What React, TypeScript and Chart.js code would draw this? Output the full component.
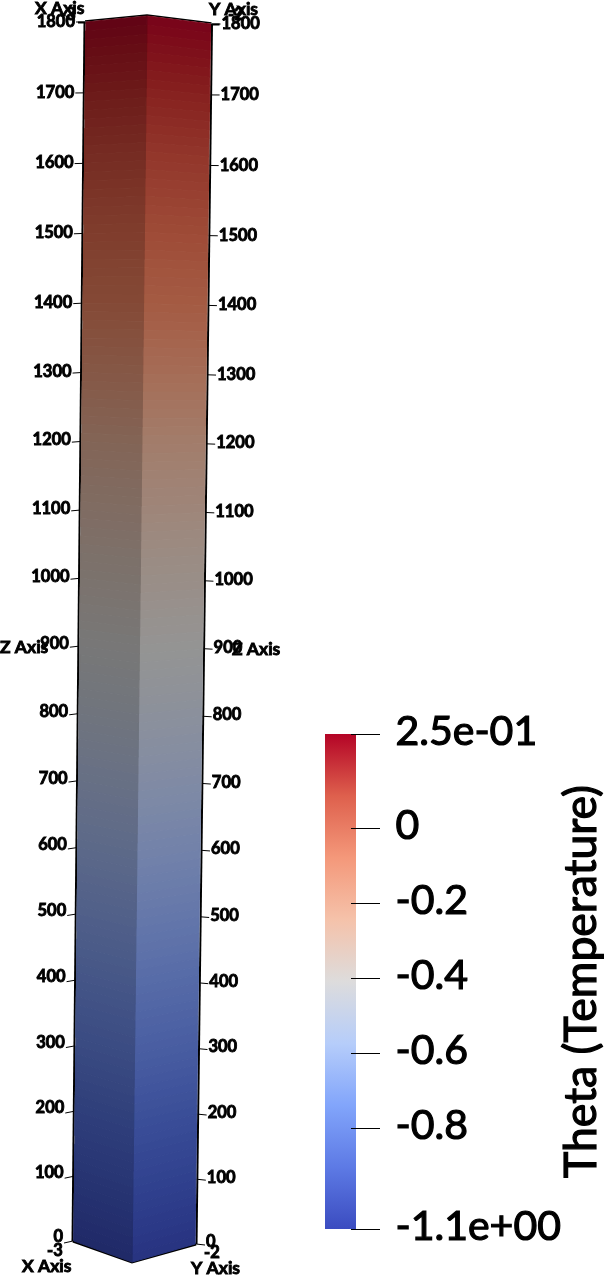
import React, { useEffect, useRef } from "react";
import { Chart, registerables } from "chart.js";

Chart.register(...registerables);

const zTicks = [0, 100, 200, 300, 400, 500, 600, 700, 800, 900, 1000, 1100, 1200, 1300, 1400, 1500, 1600, 1700, 1800];
const zLevels = [0, 50, 100, 150, 200, 250, 300, 350, 400, 450, 500, 550, 600, 650, 700, 750, 800, 850, 900, 950, 1000, 1050, 1100, 1150, 1200, 1250, 1300, 1350, 1400, 1450, 1500, 1550, 1600, 1650, 1700, 1750, 1800];
const levelColors: number[][] = [
  [59, 76, 192], [65, 86, 202], [71, 96, 211], [78, 105, 219], [86, 115, 226], [96, 126, 233], [106, 137, 240],
  [116, 147, 245], [126, 157, 249], [137, 167, 252], [148, 176, 254], [159, 185, 254], [170, 193, 253], [180, 200, 250],
  [190, 206, 246], [199, 211, 240], [207, 215, 233], [214, 218, 226], [221, 221, 221], [225, 217, 212], [228, 212, 202],
  [232, 207, 193], [236, 200, 182], [239, 194, 172], [242, 186, 160], [245, 174, 145], [246, 162, 129], [246, 149, 115],
  [245, 135, 100], [241, 125, 92], [236, 112, 82], [228, 98, 74], [220, 84, 66], [210, 66, 56], [200, 48, 46], [190, 26, 40], [180, 4, 38],
];
const colorbarStops = ["#3b4cc0", "#5d7ae5", "#82a5fb", "#b6cdfa", "#dddcdc", "#f5c2aa", "#f4987a", "#de604d", "#b40426"];
const cbTickValues = [0.25, 0, -0.2, -0.4, -0.6, -0.8, -1.068];
const cbTickLabels = ["2.5e-01", "0", "-0.2", "-0.4", "-0.6", "-0.8", "-1.1e+00"];
const cbRange = [-1.068, 0.25];
const colorbarTitle = "Theta (Temperature)";

type Edge = { x0: number; x1: number; y0: number; y1: number };
const LEFT: Edge = { x0: 74, x1: 86, y0: 1241, y1: 22 };
const CENTER: Edge = { x0: 132, x1: 147, y0: 1262, y1: 16 };
const RIGHT: Edge = { x0: 195, x1: 210.5, y0: 1244, y1: 24 };
const depth = (z: number) => {
  const t = z / 1800;
  return (0.953 * t) / (1 - 0.047 * t);
};
const project = (e: Edge, z: number, dx = 0, dy = 0) => {
  const f = depth(z);
  return { x: e.x0 + (e.x1 - e.x0) * f + dx, y: e.y0 + (e.y1 - e.y0) * f + dy };
};
const SUB = 4;
const shade = (i: number, j: number, s: number) => {
  const a = levelColors[i], b = levelColors[i + 1];
  const w = (j + 0.5) / SUB;
  return `rgb(${[0, 1, 2].map((k) => Math.round((a[k] + (b[k] - a[k]) * w) * s)).join(",")})`;
};
const line = (data: { x: number; y: number }[], color: string, width: number) => ({
  data, showLine: true, borderColor: color, borderWidth: width, pointRadius: 0, fill: false, tension: 0,
});

function columnDatasets() {
  const out: any[] = [];
  const face = (a: Edge, b: Edge, s: number) => {
    for (let i = 0; i < zLevels.length - 1; i++) {
      const step = (zLevels[i + 1] - zLevels[i]) / SUB;
      for (let j = 0; j < SUB; j++) {
        const lo = zLevels[i] + step * j, hi = lo + step;
        const c = shade(i, j, s);
        out.push({
          data: [project(a, lo), project(b, lo), project(b, hi), project(a, hi), project(a, lo)],
          showLine: true, fill: "shape", backgroundColor: c, borderColor: c, borderWidth: 1, pointRadius: 0, tension: 0,
        });
      }
    }
  };
  face(LEFT, CENTER, 0.54);
  face(CENTER, RIGHT, 0.67);
  const zMax = zTicks[zTicks.length - 1];
  out.push(line([project(LEFT, 0, -1.5), project(LEFT, zMax, -1.5)], "#000", 2));
  out.push(line([project(RIGHT, 0, 1.5), project(RIGHT, zMax, 1.5)], "#000", 2));
  // bottom and top edges
  out.push(line([project(LEFT, 0, -1), project(CENTER, 0), project(RIGHT, 0, 1)], "#000", 3));
  out.push(line([project(LEFT, 0, -1), project(CENTER, 0), project(RIGHT, 0, 1)], "#fff", 1));
  out.push(line([project(LEFT, zMax, -1, -1), project(CENTER, zMax, 0, -1), project(RIGHT, zMax, 1, -1)], "#000", 1.5));
  out.push(line([project(LEFT, zMax, -1), project(CENTER, zMax), project(RIGHT, zMax, 1)], "#fff", 1));
  out.push(line([project(LEFT, zMax, -8, 0.5), project(LEFT, zMax, 11, 0.5)], "#000", 2));
  out.push(line([project(RIGHT, zMax, -11, 0.5), project(RIGHT, zMax, 9, 0.5)], "#000", 2));
  zTicks.forEach((z) => {
    const f = depth(z);
    out.push(line([project(LEFT, z, -1), project(LEFT, z, -10, 2 * (1 - f))], "#000", 1));
    out.push(line([project(RIGHT, z, 1), project(RIGHT, z, 10, 1 * (1 - f))], "#000", 1));
  });
  return out;
}

const labelFont = "bold 16.5px Lato";
const titleFont = "bold 17.5px Lato";
const axisLabelPlugin = {
  id: "axisLabels",
  afterDatasetsDraw(chart: any) {
    const { ctx, scales } = chart;
    const X = (v: number) => scales.x.getPixelForValue(v);
    const Y = (v: number) => scales.y.getPixelForValue(v);
    const text = (s: string, x: number, y: number, align: CanvasTextAlign) => {
      ctx.textAlign = align;
      ctx.fillText(s, x, y);
      ctx.strokeText(s, x, y);
    };
    ctx.save();
    ctx.font = labelFont;
    ctx.fillStyle = "#000";
    ctx.strokeStyle = "#000";
    ctx.lineWidth = 0.9;
    ctx.textBaseline = "middle";
    zTicks.forEach((z) => {
      const f = depth(z);
      const l = project(LEFT, z, -11, -4 * (1 - f));
      const r = project(RIGHT, z, 11, -2 * (1 - f));
      text(String(z), X(l.x), Y(l.y), "right");
      text(String(z), X(r.x), Y(r.y), "left");
    });
    text("-3", X(60), Y(15), "left");
    text("-2", X(228), Y(15), "left");
    text("-3", X(47), Y(1251), "left");
    text("-2", X(204), Y(1253), "left");
    ctx.font = titleFont;
    text("Z Axis", X(0), Y(647), "left");
    text("Z Axis", X(232), Y(649), "left");
    text("X Axis", X(35), Y(8), "left");
    text("Y Axis", X(209), Y(9), "left");
    text("X Axis", X(22), Y(1266), "left");
    text("Y Axis", X(191), Y(1268), "left");
    ctx.restore();
  },
};

const colorbarPlugin = {
  id: "colorbarExtras",
  afterDatasetsDraw(chart: any) {
    const { ctx, scales, chartArea } = chart;
    ctx.save();
    ctx.strokeStyle = "#000";
    ctx.fillStyle = "#000";
    ctx.lineWidth = 1;
    cbTickValues.forEach((v) => {
      const y = Math.round(scales.y.getPixelForValue(v)) + 0.5;
      ctx.beginPath();
      ctx.moveTo(chartArea.right - 5, y);
      ctx.lineTo(chartArea.right + 24, y);
      ctx.stroke();
    });
    ctx.font = "41px Lato";
    ctx.lineWidth = 1.2;
    ctx.textAlign = "left";
    ctx.textBaseline = "middle";
    cbTickValues.forEach((v, i) => {
      const y = scales.y.getPixelForValue(v) - 2.5;
      ctx.fillText(cbTickLabels[i], chartArea.right + 39.5, y);
      ctx.strokeText(cbTickLabels[i], chartArea.right + 39.5, y);
    });
    ctx.translate(272, (chartArea.top + chartArea.bottom) / 2);
    ctx.rotate(-Math.PI / 2);
    ctx.font = "44.5px Lato";
    ctx.textAlign = "center";
    ctx.fillText(colorbarTitle, 0, 0);
    ctx.strokeText(colorbarTitle, 0, 0);
    ctx.restore();
  },
};

export default function App() {
  const columnRef = useRef<HTMLCanvasElement>(null);
  const barRef = useRef<HTMLCanvasElement>(null);

  useEffect(() => {
    document.body.style.margin = "0";
    const column = new Chart(columnRef.current!, {
      type: "scatter",
      data: { datasets: columnDatasets() },
      plugins: [axisLabelPlugin],
      options: {
        animation: false,
        responsive: false,
        layout: { padding: 0 },
        plugins: { legend: { display: false }, tooltip: { enabled: false } },
        scales: {
          x: { type: "linear", min: 0, max: 604, display: false },
          y: { type: "linear", min: 0, max: 1275, reverse: true, display: false },
        },
      },
    } as any);

    const bar = new Chart(barRef.current!, {
      type: "bar",
      data: {
        labels: ["Theta"],
        datasets: [
          {
            data: [cbRange],
            barPercentage: 1,
            categoryPercentage: 1,
            backgroundColor: (c: any) => {
              const { chart } = c;
              if (!chart.chartArea) return colorbarStops[0];
              const g = chart.ctx.createLinearGradient(0, chart.chartArea.bottom, 0, chart.chartArea.top);
              colorbarStops.forEach((s, i) => g.addColorStop(i / (colorbarStops.length - 1), s));
              return g;
            },
          },
        ],
      },
      plugins: [colorbarPlugin],
      options: {
        animation: false,
        responsive: false,
        layout: { padding: { left: 15, top: 34, bottom: 46, right: 0 } },
        plugins: { legend: { display: false }, tooltip: { enabled: false } },
        scales: {
          x: { display: false },
          y: {
            position: "right",
            min: cbRange[0],
            max: cbRange[1],
            afterBuildTicks: (s: any) => {
              s.ticks = cbTickValues.map((value) => ({ value }));
            },
            afterFit: (s: any) => {
              s.width = 248;
              s.paddingTop = 0;
              s.paddingBottom = 0;
            },
            border: { display: false },
            grid: { display: false, drawTicks: false },
            ticks: { display: false },
          },
        },
      },
    } as any);

    return () => {
      column.destroy();
      bar.destroy();
    };
  }, []);

  return (
    <div style={{ position: "relative", width: 604, height: 1275, overflow: "hidden", background: "#fff" }}>
      <canvas ref={columnRef} width={604} height={1275} style={{ position: "absolute", left: 0, top: 0, display: "block" }} />
      <canvas ref={barRef} width={294} height={575} style={{ position: "absolute", left: 310, top: 700, display: "block" }} />
    </div>
  );
}
